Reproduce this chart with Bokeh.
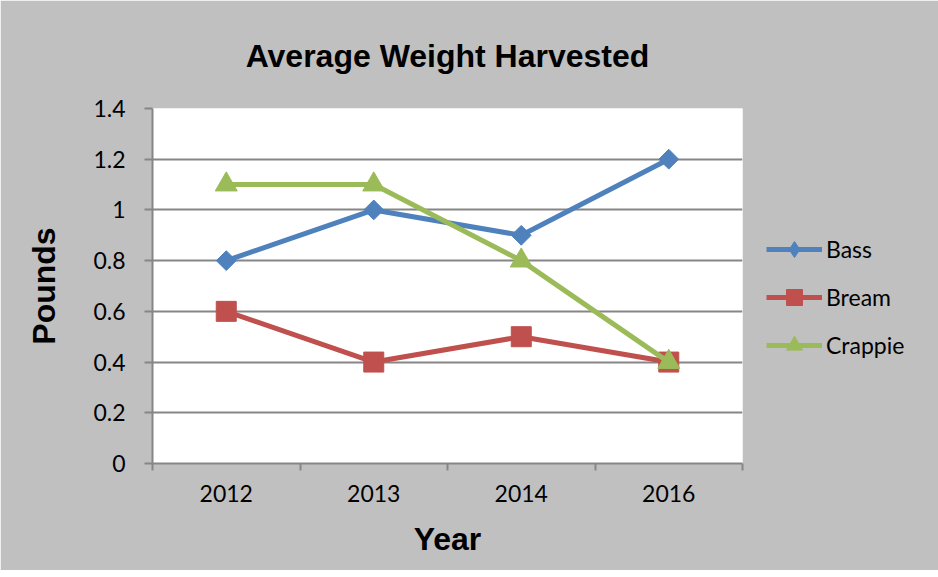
import math
from bokeh.plotting import figure
from bokeh.models import (ColumnDataSource, Range1d, FixedTicker,
                          NumeralTickFormatter, Legend, LegendItem)
from bokeh.embed import file_html
from bokeh.resources import INLINE

# ---- data ----
years = ["2012", "2013", "2014", "2016"]
bass = [0.8, 1.0, 0.9, 1.2]
bream = [0.6, 0.4, 0.5, 0.4]
crappie = [1.1, 1.1, 0.8, 0.4]
series_names = ["Bass", "Bream", "Crappie"]
y_ticks = [0, 0.2, 0.4, 0.6, 0.8, 1.0, 1.2, 1.4]

colors = ["#4F81BD", "#C0504D", "#9BBB59"]
markers = ["square", "square", "triangle"]
legend_markers = ["diamond", "square", "triangle"]
marker_sizes = [14, 20, 22]
marker_angles = [math.pi / 4, 0, 0]

xs = [i + 0.5 for i in range(len(years))]

BG = "#C0C0C0"
GRID = "#868686"
TICK_FONT = "Lato"
BOLD_FONT = "Liberation Sans"

p = figure(frame_width=590, frame_height=355, output_backend="svg", toolbar_location=None,
           x_range=Range1d(0, len(years)), y_range=Range1d(y_ticks[0], y_ticks[-1]),
           min_border_left=152, min_border_right=188, min_border_top=107, min_border_bottom=107,
           title="Average Weight Harvested")
p.background_fill_color = "white"
p.border_fill_color = BG
p.outline_line_color = None

p.title.align = "center"
p.title.text_font = BOLD_FONT
p.title.text_font_size = "32px"
p.title.text_font_style = "bold"
p.title.text_color = "black"
p.title.standoff = 70

# x axis
xa = p.xaxis[0]
xa.ticker = FixedTicker(ticks=xs, minor_ticks=list(range(len(years) + 1)))
xa.major_label_overrides = {x: y for x, y in zip(xs, years)}
xa.major_tick_out = 0
xa.major_tick_in = 0
xa.minor_tick_out = 7
xa.minor_tick_in = 0
xa.minor_tick_line_color = GRID
xa.minor_tick_line_width = 2
xa.axis_line_color = GRID
xa.axis_line_width = 2
xa.major_label_text_font = TICK_FONT
xa.major_label_text_font_size = "23px"
xa.major_label_text_color = "black"
xa.major_label_standoff = 14
xa.axis_label = "Year"
xa.axis_label_text_font = BOLD_FONT
xa.axis_label_text_font_size = "32px"
xa.axis_label_text_font_style = "bold"
xa.axis_label_text_color = "black"
xa.axis_label_standoff = 16

# y axis
ya = p.yaxis[0]
ya.ticker = FixedTicker(ticks=y_ticks, minor_ticks=[])
ya.formatter = NumeralTickFormatter(format="0.[0]")
ya.major_tick_out = 8
ya.major_tick_in = 0
ya.minor_tick_out = 0
ya.minor_tick_in = 0
ya.major_tick_line_color = GRID
ya.major_tick_line_width = 2
ya.axis_line_color = GRID
ya.axis_line_width = 2
ya.major_label_text_font = TICK_FONT
ya.major_label_text_font_size = "23px"
ya.major_label_text_color = "black"
ya.major_label_standoff = 19
ya.axis_label = "Pounds"
ya.axis_label_text_font = BOLD_FONT
ya.axis_label_text_font_size = "32px"
ya.axis_label_text_font_style = "bold"
ya.axis_label_text_color = "black"
ya.axis_label_standoff = 28

p.xgrid.grid_line_color = None
p.ygrid.ticker = FixedTicker(ticks=y_ticks)
p.ygrid.grid_line_color = GRID
p.ygrid.grid_line_width = 2

items = []
for name, vals, c, m, lm, s, a in zip(series_names, [bass, bream, crappie], colors, markers,
                                      legend_markers, marker_sizes, marker_angles):
    src = ColumnDataSource(dict(x=xs, y=vals))
    r1 = p.line("x", "y", source=src, line_color=c, line_width=5)
    rends = [r1]
    if lm != m:
        # same-shape marker for the legend key, sitting under the plotted marker
        rl = p.scatter("x", "y", source=src, marker=lm, size=s, fill_color=c, line_color=c)
        rends.append(rl)
    r2 = p.scatter("x", "y", source=src, marker=m, size=s, angle=a,
                   fill_color=c, line_color=c)
    if lm == m:
        rends.append(r2)
    items.append(LegendItem(label=name, renderers=rends))

legend = Legend(items=items, location="center_left", margin=24, padding=0,
                glyph_width=56, glyph_height=40, spacing=8, label_standoff=4,
                label_text_font=TICK_FONT, label_text_font_size="23px",
                label_text_color="black", label_height=40,
                title=" ", title_text_font_size="16px", title_standoff=4,
                background_fill_alpha=0, border_line_alpha=0)
p.add_layout(legend, "right")

open("out.html", "w").write(file_html(p, INLINE))
